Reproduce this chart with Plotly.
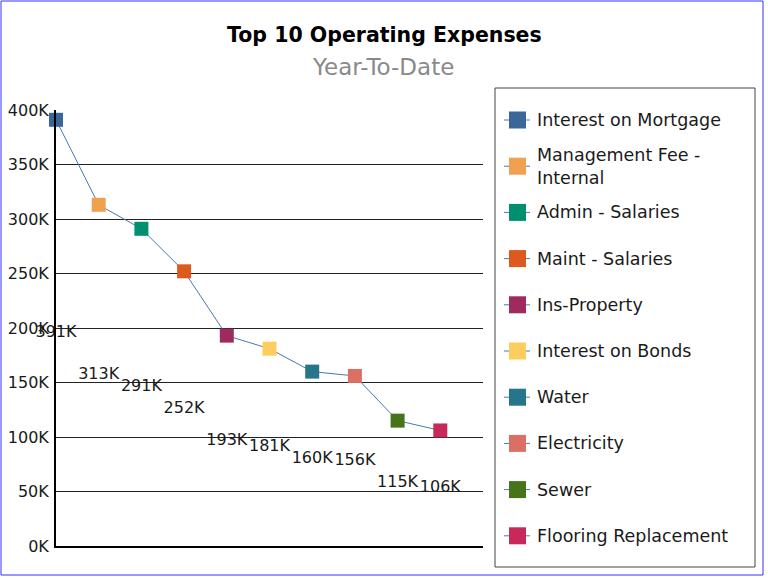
import plotly.graph_objects as go

# Year-to-date operating expenses (thousands of dollars)
categories = [
    "Interest on Mortgage",
    "Management Fee - Internal",
    "Admin - Salaries",
    "Maint - Salaries",
    "Ins-Property",
    "Interest on Bonds",
    "Water",
    "Electricity",
    "Sewer",
    "Flooring Replacement",
]
legend_names = [
    "Interest on Mortgage",
    "Management Fee -<br>Internal",
    "Admin - Salaries",
    "Maint - Salaries",
    "Ins-Property",
    "Interest on Bonds",
    "Water",
    "Electricity",
    "Sewer",
    "Flooring Replacement",
]
expenses_k = [391, 313, 291, 252, 193, 181, 160, 156, 115, 106]
marker_colors = [
    "#3A6699", "#F0A150", "#00906F", "#DD5A1E", "#9E2A5E",
    "#FFCD5E", "#26758A", "#DC6F63", "#46741A", "#C9285A",
]
y_tick_vals = [0, 50, 100, 150, 200, 250, 300, 350, 400]
y_tick_text = ["0K", "50K", "100K", "150K", "200K", "250K", "300K", "350K", "400K"]

FONT = "DejaVu Sans"
LINE_COLOR = "#4A78B0"
W, H = 768, 578
M_L, M_R, M_T, M_B = 56, 285, 110, 32
PW, PH = W - M_L - M_R, H - M_T - M_B


def px_x(x):
    return (x - M_L) / PW


def px_y(y):
    return (H - M_B - y) / PH


positions = list(range(len(categories)))
fig = go.Figure()

# connecting line through all expense points
fig.add_trace(go.Scatter(
    x=positions, y=expenses_k, mode="lines",
    line=dict(color=LINE_COLOR, width=1),
    showlegend=False, hoverinfo="skip", cliponaxis=False,
))

# square marker for each expense category
fig.add_trace(go.Scatter(
    x=positions, y=expenses_k, mode="markers",
    marker=dict(symbol="square", size=14, color=marker_colors),
    hovertext=categories, hoverinfo="text+y", showlegend=False,
    cliponaxis=False,
))

# value labels, placed at half height of each value
fig.add_trace(go.Scatter(
    x=positions, y=[v / 2 for v in expenses_k], mode="text",
    text=[f"{v}K" for v in expenses_k],
    textposition="middle center",
    textfont=dict(family=FONT, size=16, color="#1a1a1a"),
    showlegend=False, hoverinfo="skip", cliponaxis=False,
))

# legend panel on the right: bordered box with evenly spaced entries
LEG_LEFT, LEG_RIGHT, LEG_TOP, LEG_BOTTOM = 495, 755, 88, 567
ENTRY_FIRST, ENTRY_STEP = 120, 46.2
shapes = [
    dict(type="rect", xref="paper", yref="paper",
         x0=px_x(1), x1=px_x(763), y0=px_y(1), y1=px_y(575),
         line=dict(color="#3333FF", width=1), layer="below"),
    dict(type="rect", xref="paper", yref="paper",
         x0=px_x(LEG_LEFT), x1=px_x(LEG_RIGHT),
         y0=px_y(LEG_TOP), y1=px_y(LEG_BOTTOM),
         line=dict(color="#444444", width=1), fillcolor="white", layer="below"),
]
annotations = [
    dict(text="<b>Top 10 Operating Expenses</b>", xref="paper", yref="paper",
         x=px_x(384), y=px_y(35), xanchor="center", yanchor="middle",
         showarrow=False, font=dict(family=FONT, size=20.5, color="black")),
    dict(text="Year-To-Date", xref="paper", yref="paper",
         x=px_x(383), y=px_y(67), xanchor="center", yanchor="middle",
         showarrow=False, font=dict(family=FONT, size=23, color="#8a8a8a")),
]
for i, (name, color) in enumerate(zip(legend_names, marker_colors)):
    cy = ENTRY_FIRST + i * ENTRY_STEP
    shapes.append(dict(
        type="line", xref="paper", yref="paper",
        x0=px_x(504), x1=px_x(530), y0=px_y(cy), y1=px_y(cy),
        line=dict(color=LINE_COLOR, width=1),
    ))
    shapes.append(dict(
        type="rect", xref="paper", yref="paper",
        x0=px_x(509), x1=px_x(526), y0=px_y(cy - 8.5), y1=px_y(cy + 8.5),
        line=dict(width=0), fillcolor=color,
    ))
    annotations.append(dict(
        text=name, xref="paper", yref="paper",
        x=px_x(535), y=px_y(cy), xanchor="left", yanchor="middle", align="left",
        showarrow=False, font=dict(family=FONT, size=17.5, color="#1a1a1a"),
    ))

fig.update_layout(
    width=W, height=H,
    margin=dict(l=M_L, r=M_R, t=M_T, b=M_B, autoexpand=False),
    paper_bgcolor="white", plot_bgcolor="white",
    font=dict(family=FONT, size=16, color="#1a1a1a"),
    showlegend=False,
    xaxis=dict(
        range=[0, 10], showticklabels=False, showgrid=False, zeroline=False,
        showline=True, linecolor="black", linewidth=2, ticks="",
        automargin=False,
    ),
    yaxis=dict(
        range=[0, 400], tickvals=y_tick_vals, ticktext=y_tick_text,
        showgrid=True, gridcolor="#222222", gridwidth=1, zeroline=False,
        showline=True, linecolor="black", linewidth=2, ticks="",
        ticklabelstandoff=2, automargin=False,
        tickfont=dict(family=FONT, size=16, color="#1a1a1a"),
    ),
    annotations=annotations,
    shapes=shapes,
)

fig.write_html("out.html")
